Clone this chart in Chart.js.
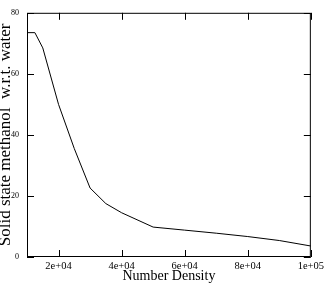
<!DOCTYPE html>
<html>
<head>
<meta charset="utf-8">
<script src="https://cdn.jsdelivr.net/npm/chart.js@4"></script>
<style>
  html, body { margin: 0; padding: 0; background: #fff; }
  #wrap { width: 327px; height: 285px; }
</style>
</head>
<body>
<div id="wrap"><canvas id="densityChart"></canvas></div>
<script>
// --- data ---
const numberDensity = [10000, 12500, 15000, 20000, 25000, 30000, 35000, 40000, 50000, 60000, 70000, 80000, 90000, 100000];
const solidMethanol = [73.5, 73.5, 68.5, 50, 35.5, 22.6, 17.5, 14.5, 9.8, 8.8, 7.8, 6.7, 5.4, 3.6];
const xTickValues = [20000, 40000, 60000, 80000, 100000];
const yTickValues = [0, 20, 40, 60, 80];

// 2e+04 style labels
function expLabel(v) {
    const parts = Number(v).toExponential().split('e');
    const exp = parts[1];
    let digits = exp.slice(1);
    if (digits.length < 2) digits = '0' + digits;
    return parts[0] + 'e' + exp[0] + digits;
}

// inward ticks on all four sides, like the original plot
const innerTicks = {
    id: 'innerTicks',
    afterDatasetsDraw(chart) {
        const ctx = chart.ctx;
        const area = chart.chartArea;
        const xs = chart.scales.x;
        const ys = chart.scales.y;
        const len = 7;
        ctx.save();
        ctx.strokeStyle = '#000';
        ctx.lineWidth = 1;
        ctx.beginPath();
        xs.ticks.forEach(t => {
            const px = Math.round(xs.getPixelForValue(t.value)) + 0.5;
            ctx.moveTo(px, area.bottom); ctx.lineTo(px, area.bottom - len);
            ctx.moveTo(px, area.top); ctx.lineTo(px, area.top + len);
        });
        ys.ticks.forEach(t => {
            const py = Math.round(ys.getPixelForValue(t.value)) + 0.5;
            ctx.moveTo(area.left, py); ctx.lineTo(area.left + len, py);
            ctx.moveTo(area.right, py); ctx.lineTo(area.right - len, py);
        });
        ctx.stroke();
        ctx.strokeRect(area.left + 0.5, area.top + 0.5, area.right - area.left - 1, area.bottom - area.top - 1);
        ctx.restore();
    }
};

const serif = "'Liberation Serif', 'Times New Roman', serif";

new Chart(document.getElementById('densityChart'), {
    type: 'line',
    data: {
        labels: numberDensity,
        datasets: [{
            data: numberDensity.map((x, i) => ({ x: x, y: solidMethanol[i] })),
            borderColor: '#000',
            borderWidth: 1,
            pointRadius: 0,
            fill: false,
            tension: 0
        }]
    },
    options: {
        responsive: true,
        maintainAspectRatio: false,
        animation: false,
        layout: { padding: { top: 4, right: 14, left: 0, bottom: 0 } },
        plugins: { legend: { display: false }, tooltip: { enabled: false } },
        scales: {
            x: {
                type: 'linear',
                min: 10000,
                max: 100000,
                afterBuildTicks: s => { s.ticks = xTickValues.map(v => ({ value: v })); },
                afterFit: s => { s.height = 28; },
                grid: { display: false, drawTicks: false },
                border: { display: false },
                ticks: {
                    callback: v => expLabel(v),
                    font: { family: serif, size: 10.5 },
                    color: '#000',
                    padding: 3,
                    maxRotation: 0,
                    autoSkip: false
                },
                title: {
                    display: true,
                    text: 'Number Density',
                    font: { family: serif, size: 14, lineHeight: 1.2 },
                    color: '#000',
                    padding: 0
                }
            },
            y: {
                type: 'linear',
                min: 0,
                max: 80,
                afterBuildTicks: s => { s.ticks = yTickValues.map(v => ({ value: v })); },
                afterFit: s => { s.width = 27; },
                grid: { display: false, drawTicks: false },
                border: { display: false },
                ticks: {
                    font: { family: serif, size: 8 },
                    color: '#000',
                    padding: 8
                },
                title: {
                    display: true,
                    text: 'Solid state methanol  w.r.t. water',
                    font: { family: serif, size: 17, lineHeight: 0.7 },
                    color: '#000',
                    padding: 0
                }
            }
        }
    },
    plugins: [innerTicks]
});
</script>
</body>
</html>
